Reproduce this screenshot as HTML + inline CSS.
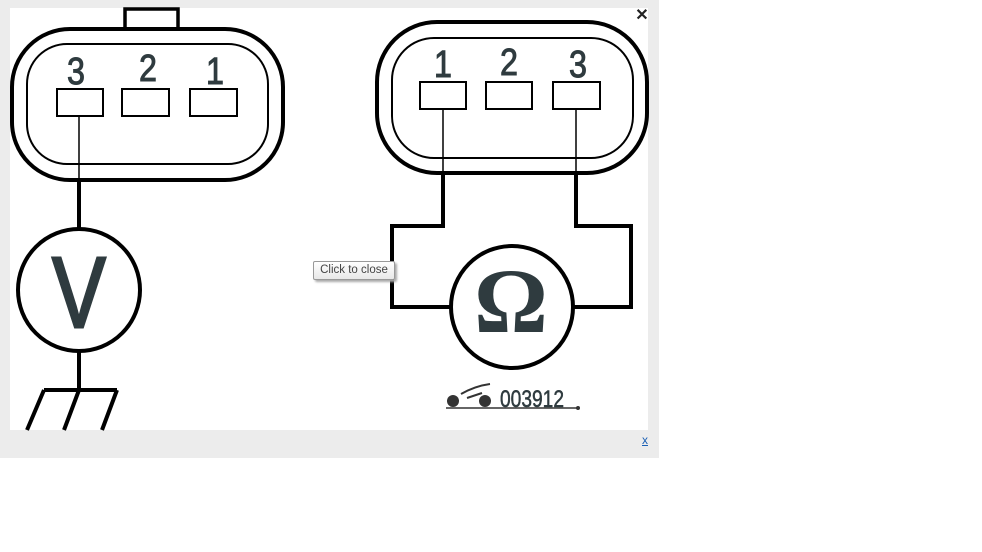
<!DOCTYPE html>
<html><head><style>
body{margin:0;width:982px;height:552px;background:#fff;position:relative;overflow:hidden;font-family:"Liberation Sans",sans-serif}
#panel{position:absolute;left:0;top:0;width:659px;height:458px;background:#ececec}
#tip{position:absolute;left:313px;top:261px;width:80px;height:17px;border:1px solid #999;border-radius:2px;background:linear-gradient(#fff,#e8e8e8);font-size:11.5px;color:#444;line-height:17px;text-align:center;box-shadow:2px 2px 2px #aaa}
#x{position:absolute;left:642px;top:433px;font-size:12px;color:#1a5fb4;text-decoration:underline}
</style></head><body>
<div id="panel"></div>
<svg style="position:absolute;left:0;top:0" width="982" height="552">
<rect x="10" y="8" width="638" height="422" fill="#fff"/>
<g fill="none" stroke="#000">
<path d="M125 30V9h53v21" stroke-width="3.5"/>
<rect x="12" y="29" width="271" height="151" rx="58" stroke-width="4"/>
<rect x="27" y="44" width="241" height="120" rx="40" stroke-width="2"/>
<rect x="57" y="89" width="46" height="27" stroke-width="2"/>
<rect x="122" y="89" width="47" height="27" stroke-width="2"/>
<rect x="190" y="89" width="47" height="27" stroke-width="2"/>
<path d="M79 116V180" stroke-width="1.5"/>
<path d="M79 180V228M79 352V390M44 390H117M44 390L27 430M79 390L64 430M117 390L102 430" stroke-width="4"/>
<circle cx="79" cy="290" r="61" stroke-width="4"/>
<rect x="377" y="22" width="270" height="151" rx="60" stroke-width="4"/>
<rect x="392" y="38" width="241" height="120" rx="42" stroke-width="2"/>
<rect x="420" y="82" width="46" height="27" stroke-width="2"/>
<rect x="486" y="82" width="46" height="27" stroke-width="2"/>
<rect x="553" y="82" width="47" height="27" stroke-width="2"/>
<path d="M443 109V173M576 109V173" stroke-width="1.5"/>
<path d="M443 173V226H392V307H452M576 173V226H631V307H572" stroke-width="4"/>
<circle cx="512" cy="307" r="61" stroke-width="4"/>
<path d="M446 408H578" stroke="#333" stroke-width="1.5"/>
<path d="M461 394Q475 386 490 384M467 398L482 393" stroke="#333" stroke-width="2"/>
</g>
<circle cx="578" cy="408" r="2" fill="#333"/>
<circle cx="453" cy="401" r="6" fill="#333"/><circle cx="485" cy="401" r="6" fill="#333"/>
<g fill="#2f3b3f" stroke="#2f3b3f" stroke-width="1" font-family="Liberation Sans Narrow, Liberation Sans, sans-serif" font-size="38" text-anchor="middle">
<text x="76" y="84" transform="translate(76 0) scale(0.85 1) translate(-76 0)">3</text>
<text x="148" y="81" transform="translate(148 0) scale(0.85 1) translate(-148 0)">2</text>
<text x="215" y="84" transform="translate(215 0) scale(0.85 1) translate(-215 0)">1</text>
<text x="443" y="77" transform="translate(443 0) scale(0.85 1) translate(-443 0)">1</text>
<text x="509" y="75" transform="translate(509 0) scale(0.85 1) translate(-509 0)">2</text>
<text x="578" y="77" transform="translate(578 0) scale(0.85 1) translate(-578 0)">3</text>
<text x="79" y="327" font-size="100" stroke-width="3" transform="translate(79 0) scale(0.8 1) translate(-79 0)">V</text>
<text x="511" y="332" font-size="92" font-weight="bold" stroke-width="0" font-family="Liberation Serif, serif">Ω</text>
<text x="532" y="407" font-size="24" stroke-width="0.5" transform="translate(532 0) scale(0.8 1) translate(-532 0)">003912</text>
</g>
<text x="642" y="20" font-size="16" font-weight="bold" text-anchor="middle" fill="#222">✕</text>
</svg>
<div id="tip">Click to close</div>
<div id="x">x</div>
</body></html>
